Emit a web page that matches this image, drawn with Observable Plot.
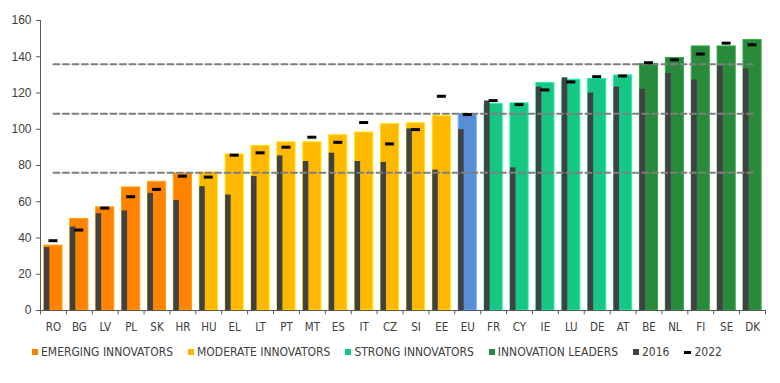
<!DOCTYPE html>
<html><head><meta charset="utf-8">
<script src="https://cdn.jsdelivr.net/npm/d3@7"></script>
<script src="https://cdn.jsdelivr.net/npm/@observablehq/plot@0.6"></script>
<style>
body{margin:0;background:#fff;}
#legend{display:flex;align-items:center;gap:15px;padding-left:32px;height:24px;margin-top:0px;
  font-family:"Liberation Sans Narrow","DejaVu Sans Condensed","Liberation Sans",sans-serif;font-size:12px;color:#404040;}
#legend .it{display:flex;align-items:center;white-space:nowrap;}
#legend .sw{display:inline-block;width:6px;height:6px;margin-right:3px;}
#legend .mk{display:inline-block;width:7px;height:3px;margin-right:3px;background:#000;}
</style></head><body><div id="chart"></div><div id="legend"></div>
<script>
const countries = ["RO","BG","LV","PL","SK","HR","HU","EL","LT","PT","MT","ES","IT","CZ","SI","EE","EU","FR","CY","IE","LU","DE","AT","BE","NL","FI","SE","DK"];
const groups = ["E","E","E","E","E","E","M","M","M","M","M","M","M","M","M","M","EU","S","S","S","S","S","S","L","L","L","L","L"];
const v2023 = [35.8,50.5,56.9,67.9,71.0,75.6,76.1,86.1,90.8,92.8,92.8,96.7,98.2,102.8,103.3,107.2,108.4,113.9,114.3,125.5,127.3,127.7,129.7,136.1,139.3,145.7,145.7,149.2];
const v2016 = [34.7,46.1,53.4,54.9,64.6,60.7,68.3,63.7,73.9,85.3,82.2,86.8,82.2,81.7,100.2,77.4,99.8,115.6,78.7,123.3,128.4,120.0,123.3,122.0,130.8,127.2,134.9,133.2];
const v2022 = [38.5,44.4,56.5,62.8,66.8,74.1,73.6,85.7,87.0,90.1,95.6,92.8,103.7,91.9,99.8,118.2,108.1,115.8,113.6,121.7,126.1,129.0,129.4,136.7,138.3,141.5,147.5,146.6];
const thresholds = [76.0, 108.6, 135.8];
const yTicks = [0,20,40,60,80,100,120,140,160];
const groupKeys = ["E","M","S","L","EU"];
const groupNames = ["EMERGING INNOVATORS","MODERATE INNOVATORS","STRONG INNOVATORS","INNOVATION LEADERS","EU"];
const groupColors = ["#FF8200","#FFB800","#16C784","#288A3A","#578FD6"];
const legendNames = ["2016","2022"];

const colorOf = Object.fromEntries(groupKeys.map((k,i)=>[k,groupColors[i]]));
const rows = countries.map((c,i)=>({country:c, group:groups[i], v2023:v2023[i], v2016:v2016[i], v2022:v2022[i]}));
const lineRows = thresholds.flatMap((t,j)=>countries.map(c=>({country:c, value:t, level:j})));

const W=780, H=340, mL=40, mR=15, mT=20, mB=30;
const step = (W-mL-mR)/countries.length;
const bw = step*0.7;
const axisColor = "#595959";
const font = '"Liberation Sans Narrow","DejaVu Sans Condensed","Liberation Sans",sans-serif';

const chart = Plot.plot({
  width:W, height:H, marginTop:mT, marginBottom:mB, marginLeft:mL, marginRight:mR,
  style:{fontFamily:'"Liberation Sans",Arial,sans-serif', fontSize:"12px", color:"#404040", background:"#fff"},
  x:{domain:countries, paddingInner:0.3, paddingOuter:0.15, round:false, label:null},
  y:{domain:[0,160], label:null},
  marks:[
    Plot.barY(rows,{x:"country", y:"v2023", fill:d=>colorOf[d.group], stroke:d=>d3.color(colorOf[d.group]).brighter(0.6).formatHex(), strokeWidth:1}),
    Plot.barY(rows,{x:"country", y:"v2016", fill:"#404142", insetRight:bw-5.5}),
    Plot.lineY(lineRows,{x:"country", y:"value", z:"level", stroke:"#7f7f7f", strokeWidth:2, strokeDasharray:"6,3.5"}),
    Plot.tickY(rows,{x:"country", y:"v2022", stroke:"#000", strokeWidth:3, insetLeft:bw/2-4.5, insetRight:bw/2-4.5}),
    Plot.ruleY([0],{stroke:axisColor}),
    Plot.ruleX([countries[0]],{dx:-step/2, y1:0, y2:160, stroke:axisColor}),
    Plot.ruleX(countries,{x:d=>d, dx:-step/2, y1:0, y2:-2.4, stroke:axisColor}),
    Plot.ruleX([countries[countries.length-1]],{x:d=>d, dx:step/2, y1:0, y2:-2.4, stroke:axisColor}),
    Plot.axisY({ticks:yTicks, tickSize:4, tickPadding:5, stroke:axisColor, fill:"#404040", fontSize:12}),
    Plot.axisX({tickSize:0, tickPadding:12, fill:"#404040", fontSize:11.5, fontFamily:font})
  ]
});
document.getElementById("chart").appendChild(chart);

const lg = document.getElementById("legend");
groupNames.slice(0,4).forEach((n,i)=>{
  const it=document.createElement("span"); it.className="it";
  it.innerHTML=`<span class="sw" style="background:${groupColors[i]}"></span>${n}`;
  lg.appendChild(it);
});
{
  const it=document.createElement("span"); it.className="it";
  it.innerHTML=`<span class="sw" style="background:#404142"></span>${legendNames[0]}`;
  lg.appendChild(it);
  const it2=document.createElement("span"); it2.className="it";
  it2.innerHTML=`<span class="mk"></span>${legendNames[1]}`;
  lg.appendChild(it2);
}
</script></body></html>
